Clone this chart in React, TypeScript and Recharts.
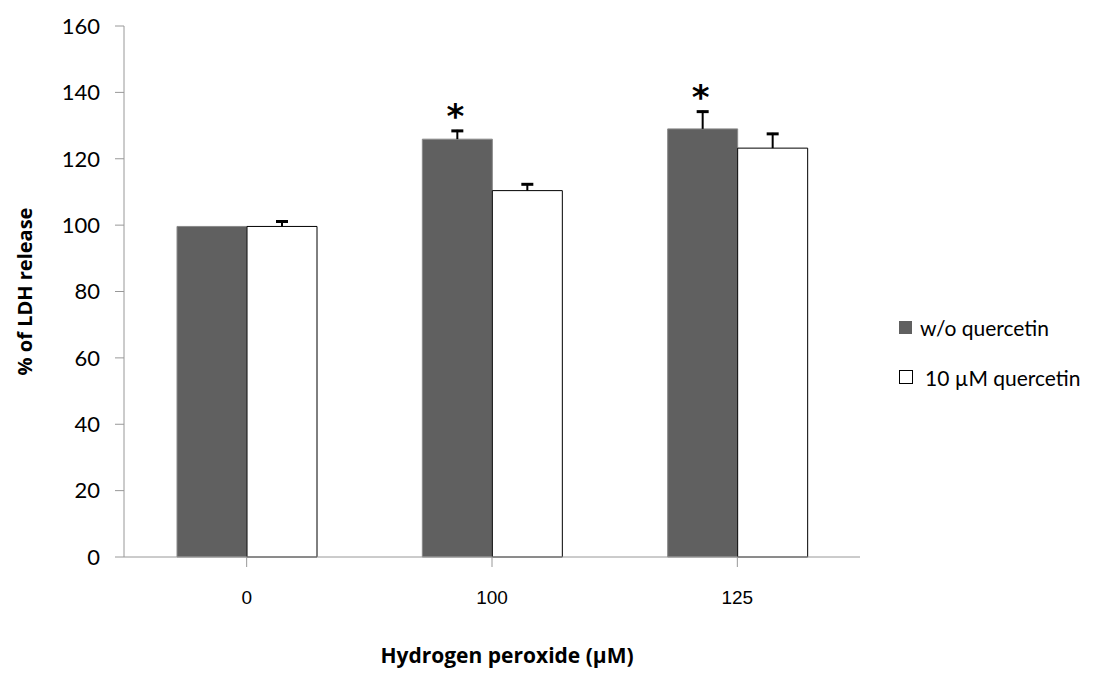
import React from "react";
import { BarChart, Bar, XAxis, YAxis, LabelList, Label } from "recharts";

const categories = ["0", "100", "125"];
const withoutQuercetin = [99.6, 125.9, 129.0];
const withQuercetin = [99.6, 110.4, 123.2];
const errWithout = [0, 2.8, 5.5];
const errWith = [1.8, 2.2, 4.6];
const significance = ["", "*", "*"];
const yTicks = [0, 20, 40, 60, 80, 100, 120, 140, 160];

const seriesNames = ["w/o quercetin", "10 \u00b5M quercetin"];
const DARK = "#606060";

const data = categories.map((c, i) => ({
  cat: c,
  dark: withoutQuercetin[i],
  light: withQuercetin[i],
  errDark: errWithout[i],
  errLight: errWith[i],
  star: significance[i],
}));

const makeErrorBar = (values: number[], errs: number[]) => (props: any) => {
  const { x, y, width, height, index } = props;
  const e = errs[index];
  if (!e) return null;
  const pxPerUnit = height / values[index];
  const top = y - e * pxPerUnit;
  const cx = x + width / 2;
  return (
    <g>
      <line x1={cx} x2={cx} y1={y} y2={top} stroke="#000" strokeWidth={2} />
      <line x1={cx - 6} x2={cx + 6} y1={top + 1} y2={top + 1} stroke="#000" strokeWidth={3} />
    </g>
  );
};

const StarLabel = (props: any) => {
  const { x, y, width, height, index } = props;
  const s = significance[index];
  if (!s) return null;
  const e = errWithout[index] ?? 0;
  const pxPerUnit = height / withoutQuercetin[index];
  const top = y - e * pxPerUnit;
  return (
    <text
      x={x + width / 2 - 2}
      y={top - 2}
      textAnchor="middle"
      fontFamily="'DejaVu Sans', sans-serif"
      fontWeight="bold"
      fontSize={34}
      fill="#000"
    >
      {s}
    </text>
  );
};

export default function App() {
  return (
    <div style={{ position: "absolute", left: 0, top: 0, width: 1110, height: 673, background: "#fff" }}>
      <BarChart
        width={1110}
        height={673}
        data={data}
        margin={{ top: 26, right: 250, bottom: 0, left: 0 }}
        barGap={0}
      >
        <XAxis
          dataKey="cat"
          height={116}
          stroke="#989898"
          tickSize={10}
          tickMargin={24}
          tick={{ fill: "#000", fontSize: 19, fontFamily: "'Liberation Sans Narrow', 'Liberation Sans', sans-serif" }}
          tickLine={{ stroke: "#989898" }}
          axisLine={{ stroke: "#989898" }}
        >
          <Label
            content={(p: any) => {
              const vb = p.viewBox;
              const cx = vb.x + vb.width / 2 + 15;
              return (
                <text
                  x={cx}
                  y={663}
                  textAnchor="middle"
                  fontFamily="'Open Sans', sans-serif"
                  fontWeight="bold"
                  fontSize={21}
                  fill="#000"
                >
                  {"Hydrogen peroxide (\u00b5M)"}
                </text>
              );
            }}
          />
        </XAxis>
        <YAxis
          width={124}
          domain={[0, 160]}
          ticks={yTicks}
          interval={0}
          stroke="#989898"
          tickSize={9}
          tickMargin={15}
          tick={{ fill: "#000", fontSize: 22, fontFamily: "Lato, 'Open Sans', sans-serif" }}
          tickLine={{ stroke: "#989898" }}
          axisLine={{ stroke: "#989898" }}
        >
          <Label
            content={(p: any) => {
              const vb = p.viewBox;
              const cx = 24;
              const cy = vb.y + vb.height / 2;
              return (
                <text
                  x={cx}
                  y={cy}
                  transform={`rotate(-90 ${cx} ${cy})`}
                  textAnchor="middle"
                  dominantBaseline="central"
                  fontFamily="'Open Sans', sans-serif"
                  fontWeight="bold"
                  fontSize={20}
                  fill="#000"
                >
                  % of LDH release
                </text>
              );
            }}
          />
        </YAxis>
        <Bar dataKey="dark" name={seriesNames[0]} fill={DARK} stroke="#8a8a8a" strokeWidth={1} barSize={70} isAnimationActive={false}>
          <LabelList dataKey="errDark" content={makeErrorBar(withoutQuercetin, errWithout)} />
          <LabelList dataKey="star" content={StarLabel} />
        </Bar>
        <Bar dataKey="light" name={seriesNames[1]} fill="#fff" stroke="#000" strokeWidth={1} barSize={70} isAnimationActive={false}>
          <LabelList dataKey="errLight" content={makeErrorBar(withQuercetin, errWith)} />
        </Bar>
      </BarChart>
      <div
        style={{
          position: "absolute",
          left: 899,
          top: 314,
          fontFamily: "Lato, 'Open Sans', sans-serif",
          fontSize: 21,
          color: "#000",
        }}
      >
        <div style={{ display: "flex", alignItems: "center", height: 26, marginBottom: 24 }}>
          <span style={{ width: 13, height: 13, background: DARK, display: "inline-block", marginRight: 8 }} />
          <span>{seriesNames[0]}</span>
        </div>
        <div style={{ display: "flex", alignItems: "center", height: 26 }}>
          <span
            style={{
              width: 12,
              height: 12,
              background: "#fff",
              border: "1px solid #000",
              display: "inline-block",
              marginRight: 12,
            }}
          />
          <span>{seriesNames[1]}</span>
        </div>
      </div>
    </div>
  );
}
